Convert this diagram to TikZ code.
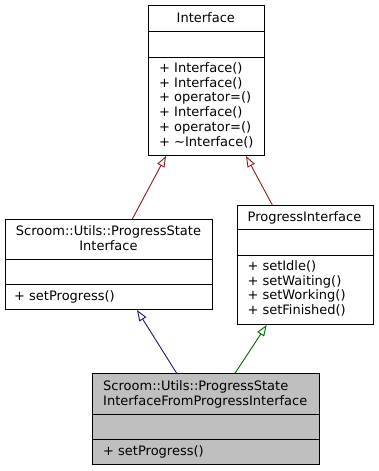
\documentclass[tikz,border=0pt]{standalone}
\usepackage{fontspec}
\setmainfont{DejaVu Sans}
\usetikzlibrary{arrows.meta}
\definecolor{firebrick}{HTML}{8B1A1A}
\definecolor{midnight}{HTML}{191970}
\definecolor{dgreen}{HTML}{006400}
\definecolor{classgrey}{HTML}{BFBFBF}
\begin{document}
\begin{tikzpicture}[x=1pt,y=-1pt,
  classbox/.style={draw=black,line width=1pt,rectangle,inner sep=0pt,anchor=north west},
  divider/.style={draw=black,line width=1pt},
  txt/.style={inner sep=0pt,font=\fontsize{13}{14.7}\selectfont},
  inh/.style={line width=0.9pt,-{Triangle[open,length=11pt,width=8pt,line width=0.9pt]}}]
\useasboundingbox (0,0) rectangle (378,471);

% Interface
\node[classbox,minimum width=116.3pt,minimum height=149.7pt] (iface) at (147.7,5.3) {};
\draw[divider] (iface.west |- 0,31.7) -- (iface.east |- 0,31.7);
\draw[divider] (iface.west |- 0,57.3) -- (iface.east |- 0,57.3);
\node[txt,anchor=base] (ifaceT) at (205.8,22.3) {Interface};
\foreach \t [count=\i] in {+ Interface(),+ Interface(),+ operator=(),+ Interface(),+ operator=(),+ \textasciitilde Interface()}
  \node[txt,anchor=base west] (ifaceM\i) at (159,{72.5+(\i-1)*14.7}) {\t};

% Scroom::Utils::ProgressStateInterface
\node[classbox,minimum width=207pt,minimum height=90pt] (psi) at (5,219) {};
\draw[divider] (psi.west |- 0,259.5) -- (psi.east |- 0,259.5);
\draw[divider] (psi.west |- 0,284.5) -- (psi.east |- 0,284.5);
\node[txt,anchor=base] (psiT1) at (108.5,235.5) {Scroom::Utils::ProgressState};
\node[txt,anchor=base] (psiT2) at (108.5,250.2) {Interface};
\node[txt,anchor=base west] (psiM1) at (14,300) {+ setProgress()};

% ProgressInterface
\node[classbox,minimum width=136pt,minimum height=119pt] (pi) at (236.5,205) {};
\draw[divider] (pi.west |- 0,229.8) -- (pi.east |- 0,229.8);
\draw[divider] (pi.west |- 0,255.7) -- (pi.east |- 0,255.7);
\node[txt,anchor=base] (piT) at (304.5,221) {ProgressInterface};
\foreach \t [count=\i] in {+ setIdle(),+ setWaiting(),+ setWorking(),+ setFinished()}
  \node[txt,anchor=base west] (piM\i) at (247.3,{270.5+(\i-1)*14.7}) {\t};

% Scroom::Utils::ProgressStateInterfaceFromProgressInterface
\node[classbox,fill=classgrey,minimum width=227pt,minimum height=91pt] (sfp) at (92.3,373.3) {};
\draw[divider] (sfp.west |- 0,414.3) -- (sfp.east |- 0,414.3);
\draw[divider] (sfp.west |- 0,439.5) -- (sfp.east |- 0,439.5);
\node[txt,anchor=base west] (sfpT1) at (103,390.3) {Scroom::Utils::ProgressState};
\node[txt,anchor=base west] (sfpT2) at (103,405) {InterfaceFromProgressInterface};
\node[txt,anchor=base west] (sfpM1) at (103,455.5) {+ setProgress()};

% inheritance relations
\draw[inh,firebrick] ([xshift=127.3pt]psi.north west) -- ([xshift=18.3pt]iface.south west);
\draw[inh,firebrick] ([xshift=35.8pt]pi.north west) -- ([xshift=98.3pt]iface.south west);
\draw[inh,midnight] ([xshift=84.4pt]sfp.north west) -- ([xshift=132pt]psi.south west);
\draw[inh,dgreen] ([xshift=142.7pt]sfp.north west) -- ([xshift=30.2pt]pi.south west);
\end{tikzpicture}
\end{document}
